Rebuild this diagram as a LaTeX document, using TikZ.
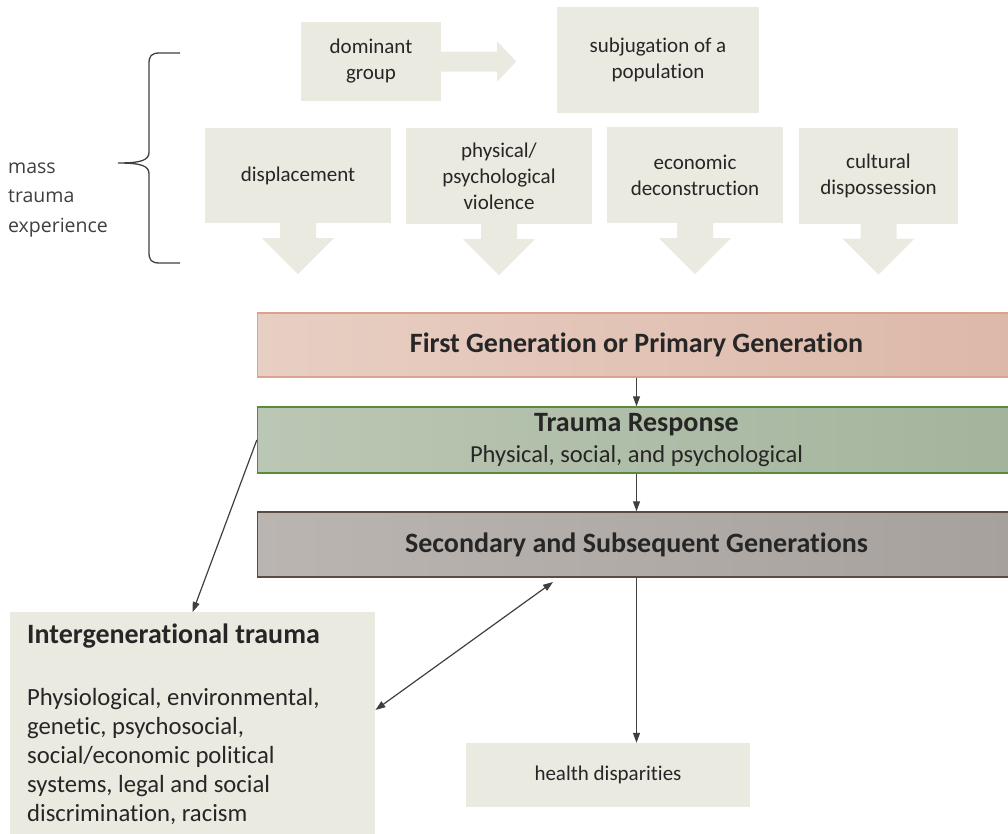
\documentclass[tikz,border=0pt]{standalone}
\usepackage{fontspec}
\setmainfont[Ligatures=NoCommon]{Carlito}
\newfontfamily\sidefont{Open Sans}
\usetikzlibrary{arrows.meta,positioning,calc}
\definecolor{cBox}{HTML}{EBEAE0}
\definecolor{cTxt}{HTML}{262626}
\definecolor{cLine}{HTML}{3F3F3F}
\definecolor{cFirstL}{HTML}{E8CFC3}
\definecolor{cFirstR}{HTML}{DCB8A9}
\definecolor{cFirstD}{HTML}{DCA28C}
\definecolor{cRespL}{HTML}{BAC7B4}
\definecolor{cRespR}{HTML}{A4B49C}
\definecolor{cRespD}{HTML}{5B8A3C}
\definecolor{cSecL}{HTML}{BAB5B1}
\definecolor{cSecR}{HTML}{A7A19D}
\definecolor{cSecD}{HTML}{5A4B43}
\tikzset{
  tbox/.style={fill=cBox,inner sep=0pt,align=center,text=cTxt,
               font=\fontsize{21}{26}\selectfont},
  genbox/.style={draw,line width=1.4pt,inner sep=0pt,align=center,text=cTxt,
               minimum width=758pt},
  conn/.style={-{Triangle[length=10pt,width=7pt]},line width=1.2pt,cLine},
  biconn/.style={{Triangle[length=10pt,width=7pt]}-{Triangle[length=10pt,width=7pt]},
               line width=1.2pt,cLine},
  brace/.style={line width=1.3pt,cLine},
}
\begin{document}
\begin{tikzpicture}[x=1pt,y=-1pt]
  \clip (0,0) rectangle (1008,833);
  % top row
  \node[tbox,minimum width=140pt,minimum height=79pt] (dom) at (371,61.5) {dominant\\group};
  \node[tbox,minimum width=202pt,minimum height=106pt] (subj) at (658,60) {subjugation of a\\population};
  \fill[cBox] (dom.east) ++(0,-10) -- ++(56,0) -- ++(0,-10) -- ++(19,20)
    -- ++(-19,20) -- ++(0,-10) -- ++(-56,0) -- cycle;
  \node[tbox,minimum width=186pt,minimum height=95pt] (disp) at (298,175.5) {displacement};
  \node[tbox,minimum width=186pt,minimum height=96pt] (viol) at (499,176) {physical/\\psychological\\violence};
  \node[tbox,minimum width=176pt,minimum height=96pt] (econ) at (695,175) {economic\\deconstruction};
  \node[tbox,minimum width=159pt,minimum height=96pt] (cult) at (878.5,175.5) {cultural\\dispossession};
  \foreach \b in {disp,viol,econ,cult}{
    \fill[cBox] (\b.south) ++(-18,-1) -- ++(0,16) -- ++(-18,0) -- ++(36,36)
      -- ++(36,-36) -- ++(-18,0) -- ++(0,-16) -- cycle;
  }
  % brace and its label
  \draw[brace] (180,53) -- (160,53) .. controls (151,53) and (149,56) .. (149,64)
    -- (149,152) .. controls (149,160) and (142,163) .. (118,163)
    .. controls (142,163) and (149,166) .. (149,174) -- (149,252)
    .. controls (149,260) and (151,263) .. (160,263) -- (180,263);
  \node[anchor=west,align=left,inner sep=0pt,text=cLine,
        font=\sidefont\fontsize{19.5}{29.5}\selectfont] (mass) at (8,200) {mass\\trauma\\experience};
  % generations
  \node[genbox,draw=cFirstD,left color=cFirstL,right color=cFirstR,minimum height=64pt,
        font=\bfseries\fontsize{28}{32}\selectfont] (first) at (636.5,345)
        {First Generation or Primary Generation};
  \node[genbox,draw=cRespD,left color=cRespL,right color=cRespR,minimum height=66pt,
        font=\fontsize{24.5}{31}\selectfont] (resp) at (636.5,440)
        {\textbf{\fontsize{28}{31}\selectfont Trauma Response}\\Physical, social, and psychological};
  \node[genbox,draw=cSecD,left color=cSecL,right color=cSecR,minimum height=65pt,
        font=\bfseries\fontsize{28}{32}\selectfont] (second) at (636.5,544.5)
        {Secondary and Subsequent Generations};
  % outcomes
  \node[tbox,anchor=north west,minimum width=365pt,minimum height=240pt] (inter) at (10,612) {};
  \node[anchor=north west,align=left,inner sep=0pt,text=cTxt,
        font=\fontsize{24.7}{29}\selectfont] (intertxt) at (27,624)
        {\textbf{\fontsize{28}{29}\selectfont Intergenerational trauma}\\[33pt]
         Physiological, environmental,\\genetic, psychosocial,\\social/economic political\\
         systems, legal and social\\discrimination, racism};
  \node[tbox,minimum width=284pt,minimum height=64pt,
        font=\fontsize{21}{24}\selectfont] (health) at (608,775) {health disparities};
  % connectors
  \draw[conn] (first) -- (resp);
  \draw[conn] (resp) -- (second);
  \draw[conn] (second.south) -- (second.south |- health.north);
  \draw[conn] (resp.west) -- (inter.north);
  \coordinate (link) at (553,582);
  \draw[biconn] (link) -- (inter.east |- 0,710);
\end{tikzpicture}
\end{document}
